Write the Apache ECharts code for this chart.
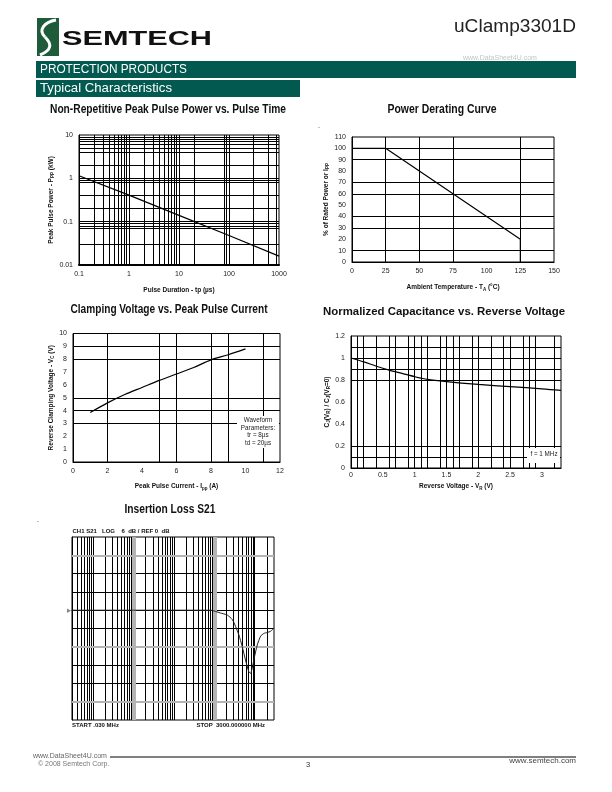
<!DOCTYPE html>
<html>
<head>
<meta charset="utf-8">
<script src="https://cdn.jsdelivr.net/npm/echarts@6.0.0/dist/echarts.min.js"></script>
<style>
  html, body { margin: 0; padding: 0; background: #fff; }
  #page { width: 612px; height: 792px; }
</style>
</head>
<body>
<div id="page"></div>
<script>
// ---- data ----
// Non-repetitive peak pulse power (kW) vs pulse duration (us)
var pulseTime = [0.1, 1, 10, 100, 1000];
var pulsePower = [1.15, 0.41, 0.14, 0.048, 0.016];
var pulseTimeGrid = [0.2, 0.3, 0.4, 0.5, 0.6, 0.7, 0.8, 0.9, 1, 2, 3, 4, 5, 6, 7, 8, 9, 10, 20, 80, 90, 100, 300, 600, 900];
var pulsePowerGrid = [9, 8, 7, 6, 5, 4, 2, 1, 0.9, 0.8, 0.4, 0.2, 0.1, 0.09, 0.08, 0.07, 0.03];

// Power derating curve
var ambientTemp = [0, 25, 125, 125];
var ratedPct = [100, 100, 20, 0];
var ambientGrid = [25, 50, 75, 125];
var ratedGrid = [10, 30, 40, 60, 70, 90, 100];

// Clamping voltage vs peak pulse current
var ippAmps = [1, 2, 3, 4, 5, 6, 7, 8, 9, 10];
var vcVolts = [3.85, 4.6, 5.25, 5.8, 6.35, 6.85, 7.35, 7.95, 8.35, 8.8];
var ippGrid = [2, 5, 6, 8, 9, 11];
var vcGrid = [3, 4, 5, 8, 9];

// Normalized capacitance vs reverse voltage
var vrVolts = [0, 0.2, 0.4, 0.6, 0.8, 1.0, 1.2, 1.5, 2.0, 2.5, 3.0, 3.3];
var cjRatio = [1.0, 0.965, 0.925, 0.89, 0.86, 0.83, 0.805, 0.785, 0.76, 0.74, 0.72, 0.705];
var vrGrid = [0.1, 0.2, 0.4, 0.6, 0.7, 0.9, 1.0, 1.1, 1.2, 1.4, 1.5, 1.6, 1.7, 1.9, 2.0, 2.2, 2.4, 2.5, 2.7, 2.8, 2.9, 3.2];
var cjGrid = [0.1, 0.2, 0.8, 0.9, 1.0, 1.1];

// Insertion loss S21 (MHz, dB)
var s21Freq = [0.03, 1, 10, 80, 140, 210, 280, 335, 405, 490, 590, 715, 790, 865, 990, 1155, 1400, 1690, 2050, 2480, 3000];
var s21Loss = [0, 0, 0, 0, -0.9, -1.6, -3.1, -5.3, -8.1, -11.9, -16.3, -20.2, -20.7, -19.0, -15.2, -11.4, -8.5, -7.6, -7.3, -6.9, -5.8];
var s21FreqGrid = [0.04, 0.05, 0.06, 0.07, 0.08, 0.09, 0.1, 0.2, 0.3, 0.4, 0.5, 0.6, 0.7, 0.8, 0.9,
  2, 3, 4, 5, 6, 7, 8, 9, 10, 20, 30, 40, 50, 60, 70, 80, 90,
  200, 300, 400, 500, 600, 700, 800, 900, 1000, 2000];
var s21FreqBands = [1, 100];
var s21DbGrid = [12, 6, 0, -6, -18, -24];
var s21DbGray = [18, -12, -30];

var SANS = "'Liberation Sans', Arial, Helvetica, sans-serif";
var INK = '#111';

var chart = echarts.init(document.getElementById('page'));
var measure = document.createElement('canvas').getContext('2d');

function frame(left, top, width, height) {
    return {
        left: left, top: top, width: width, height: height,
        show: true, borderColor: '#000', borderWidth: 1,
        backgroundColor: 'rgba(0,0,0,0)',
        containLabel: false, outerBoundsMode: 'none'
    };
}

var subRich = {
    s: { fontSize: 4.5, fontWeight: 'bold', fontFamily: SANS, color: INK, verticalAlign: 'bottom', lineHeight: 6 }
};

function axis(gridIndex, name, nameGap, extra) {
    var a = {
        gridIndex: gridIndex,
        name: name, nameLocation: 'middle', nameGap: nameGap,
        nameTextStyle: { fontFamily: SANS, fontSize: 6.5, fontWeight: 'bold', color: INK, lineHeight: 9, rich: subRich },
        axisLine: { show: true, lineStyle: { color: '#000', width: 1 } },
        axisTick: { show: false },
        splitLine: { show: false },
        axisLabel: { fontFamily: SANS, fontSize: 7, color: '#222', margin: 6 }
    };
    for (var k in extra) a[k] = extra[k];
    return a;
}

function gridLines(xs, ys, color, width) {
    var d = [];
    xs.forEach(function (v) { d.push({ xAxis: v }); });
    ys.forEach(function (v) { d.push({ yAxis: v }); });
    return {
        silent: true, symbol: 'none', z: 1, animation: false,
        label: { show: false },
        lineStyle: { color: color || '#000', width: width || 1, type: 'solid' },
        data: d
    };
}

function pairs(xs, ys) {
    return xs.map(function (x, i) { return [x, ys[i]]; });
}

function logLabel(v) { return String(Number(v.toPrecision(3))); }

var curve = { color: '#000', width: 1.2 };

function txt(x, y, text, o) {
    o = o || {};
    return {
        type: 'text', x: x, y: y, z: 100, scaleX: o.scaleX || 1,
        style: {
            text: text, fill: o.fill || INK,
            fontSize: o.size || 7, fontWeight: o.weight || 'normal',
            fontFamily: o.family || SANS,
            align: o.align || 'left', verticalAlign: o.valign || 'middle',
            lineHeight: o.lineHeight
        }
    };
}

// squeeze / stretch a single-line text so it spans the width it has on the page
function fitTxt(x, y, text, width, o) {
    measure.font = (o.weight || 'normal') + ' ' + (o.size || 7) + 'px ' + (o.family || SANS);
    o.scaleX = width / measure.measureText(text).width;
    return txt(x, y, text, o);
}

function title(x, y, text, width) {
    return fitTxt(x, y, text, width, { size: 12, weight: 'bold', align: 'center' });
}

var graphics = [
    // header
    { type: 'rect', z: 100, shape: { x: 37, y: 18, width: 22, height: 38 }, style: { fill: '#1d5b3a' } },
    { type: 'bezierCurve', z: 101, shape: { x1: 56, y1: 20, cpx1: 44, cpy1: 22, cpx2: 38, cpy2: 30, x2: 45, y2: 37 }, style: { stroke: '#fff', fill: null, lineWidth: 3 } },
    { type: 'bezierCurve', z: 101, shape: { x1: 45, y1: 37, cpx1: 52, cpy1: 44, cpx2: 52, cpy2: 50, x2: 40, y2: 55 }, style: { stroke: '#fff', fill: null, lineWidth: 3 } },
    fitTxt(62, 39, 'SEMTECH', 150, { size: 20, weight: 'bold', fill: '#111' }),
    fitTxt(576, 27, 'uClamp3301D', 122, { size: 19, align: 'right', fill: '#222' }),
    { type: 'rect', z: 100, shape: { x: 36, y: 61, width: 540, height: 17 }, style: { fill: '#01594f' } },
    fitTxt(40, 70, 'PROTECTION PRODUCTS', 147, { size: 12.5, fill: '#fff' }),
    { type: 'rect', z: 100, shape: { x: 36, y: 80, width: 264, height: 17 }, style: { fill: '#01594f' } },
    fitTxt(40, 89, 'Typical Characteristics', 132, { size: 12.5, fill: '#fff' }),
    txt(463, 58, 'www.DataSheet4U.com', { size: 7, fill: '#c4c4c4' }),

    // chart titles
    title(168, 110, 'Non-Repetitive Peak Pulse Power vs. Pulse Time', 236),
    title(442, 110, 'Power Derating Curve', 109),
    title(169, 310, 'Clamping Voltage vs. Peak Pulse Current', 197),
    fitTxt(444, 312, 'Normalized Capacitance vs. Reverse Voltage', 242, { size: 10.5, weight: 'bold', align: 'center' }),
    title(170, 510, 'Insertion Loss S21', 91),
    txt(318, 126, '.', { size: 7 }),
    txt(37, 520, '.', { size: 7 }),

    // clamping voltage note
    { type: 'rect', z: 99, shape: { x: 237, y: 416, width: 42, height: 32 }, style: { fill: '#fff' } },
    txt(258, 432, 'Waveform\nParameters:\ntr = 8µs\ntd = 20µs', { size: 6.3, align: 'center', lineHeight: 7.5, fill: '#222' }),

    // capacitance note
    { type: 'rect', z: 99, shape: { x: 527, y: 448, width: 33, height: 15 }, style: { fill: '#fff' } },
    txt(544, 454, 'f = 1 MHz', { size: 6.3, align: 'center', fill: '#222' }),

    // network analyser annotations
    txt(72.5, 531, 'CH1 S21', { size: 6, weight: 'bold' }),
    txt(102, 531, 'LOG', { size: 6, weight: 'bold' }),
    txt(121.5, 531, '6  dB / REF 0  dB', { size: 6, weight: 'bold' }),
    txt(72, 725, 'START .030 MHz', { size: 6, weight: 'bold' }),
    txt(265, 725, 'STOP  3000.000000 MHz', { size: 6, weight: 'bold', align: 'right' }),
    { type: 'polygon', z: 100, shape: { points: [[67, 608.5], [71, 610.7], [67, 613]] }, style: { fill: '#888' } },

    // footer
    { type: 'line', z: 100, shape: { x1: 110, y1: 757, x2: 576, y2: 757 }, style: { stroke: '#000', lineWidth: 1 } },
    txt(33, 756, 'www.DataSheet4U.com', { size: 7, fill: '#666' }),
    txt(38, 764, '© 2008 Semtech Corp.', { size: 7, fill: '#777' }),
    txt(308, 765, '3', { size: 7.5, align: 'center', fill: '#333' }),
    txt(576, 761, 'www.semtech.com', { size: 8, align: 'right', fill: '#444' })
];

var option = {
    animation: false,
    backgroundColor: '#fff',
    grid: [
        frame(79, 135, 200, 130),
        frame(352, 137, 202, 125),
        frame(73, 333.5, 207, 128.5),
        frame(351, 336, 210, 132),
        frame(72, 537, 202, 183)
    ],
    xAxis: [
        axis(0, 'Pulse Duration - tp (µs)', 21, {
            type: 'log', logBase: 10, min: 0.1, max: 1000,
            axisLine: { show: true, lineStyle: { color: '#000', width: 2 } },
            axisLabel: { fontFamily: SANS, fontSize: 7, color: '#222', margin: 6, formatter: logLabel }
        }),
        axis(1, 'Ambient Temperature - T{s|A} (°C)', 21, { type: 'value', min: 0, max: 150, interval: 25 }),
        axis(2, 'Peak Pulse Current - I{s|pp} (A)', 20, { type: 'value', min: 0, max: 12, interval: 2 }),
        axis(3, 'Reverse Voltage - V{s|R} (V)', 14, {
            type: 'value', min: 0, max: 3.3, interval: 0.5,
            axisLabel: { fontFamily: SANS, fontSize: 7, color: '#222', margin: 4, showMaxLabel: false }
        }),
        axis(4, '', 0, { type: 'log', logBase: 10, min: 0.03, max: 3000, axisLabel: { show: false } })
    ],
    yAxis: [
        axis(0, 'Peak Pulse Power - P{s|PP} (kW)', 21, {
            type: 'log', logBase: 10, min: 0.01, max: 10,
            axisLabel: { fontFamily: SANS, fontSize: 7, color: '#222', margin: 6, formatter: logLabel }
        }),
        axis(1, '% of Rated Power or I{s|PP}', 20, { type: 'value', min: 0, max: 110, interval: 10 }),
        axis(2, 'Reverse Clamping Voltage - V{s|C} (V)', 16, { type: 'value', min: 0, max: 10, interval: 1 }),
        axis(3, 'C{s|J}(V{s|R}) / C{s|J}(V{s|R}=0)', 16, { type: 'value', min: 0, max: 1.2, interval: 0.2 }),
        axis(4, '', 0, { type: 'value', min: -36, max: 24, interval: 6, axisLabel: { show: false } })
    ],
    series: [
        {
            type: 'line', xAxisIndex: 0, yAxisIndex: 0, showSymbol: false, lineStyle: curve,
            data: pairs(pulseTime, pulsePower),
            markLine: gridLines(pulseTimeGrid, pulsePowerGrid)
        },
        {
            type: 'line', xAxisIndex: 1, yAxisIndex: 1, showSymbol: false, lineStyle: curve,
            data: pairs(ambientTemp, ratedPct),
            markLine: gridLines(ambientGrid, ratedGrid)
        },
        {
            type: 'line', xAxisIndex: 2, yAxisIndex: 2, showSymbol: false, smooth: 0.3, lineStyle: curve,
            data: pairs(ippAmps, vcVolts),
            markLine: gridLines(ippGrid, vcGrid)
        },
        {
            type: 'line', xAxisIndex: 3, yAxisIndex: 3, showSymbol: false, smooth: 0.3, lineStyle: curve,
            data: pairs(vrVolts, cjRatio),
            markLine: gridLines(vrGrid, cjGrid)
        },
        {
            type: 'line', xAxisIndex: 4, yAxisIndex: 4, showSymbol: false, smooth: 0.2, z: 3,
            lineStyle: { color: '#222', width: 1 },
            data: pairs(s21Freq, s21Loss),
            markLine: gridLines(s21FreqGrid, s21DbGrid, '#000', 1)
        },
        {
            type: 'line', xAxisIndex: 4, yAxisIndex: 4, showSymbol: false, data: [],
            markLine: gridLines(s21FreqBands, [], '#b4b4b4', 4)
        },
        {
            type: 'line', xAxisIndex: 4, yAxisIndex: 4, showSymbol: false, data: [],
            markLine: gridLines([], s21DbGray, '#b4b4b4', 2)
        }
    ],
    graphic: { elements: graphics }
};

chart.setOption(option);
</script>
</body>
</html>
